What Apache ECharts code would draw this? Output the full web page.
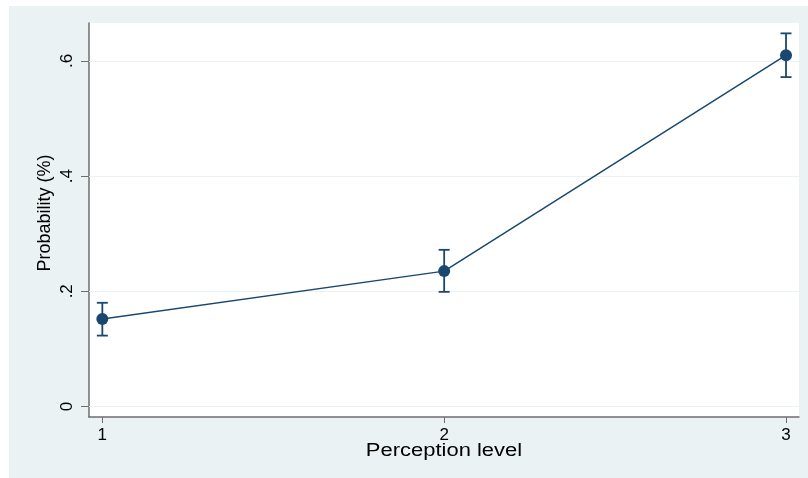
<!DOCTYPE html>
<html>
<head>
<meta charset="utf-8">
<script src="https://cdn.jsdelivr.net/npm/echarts@6/dist/echarts.min.js"></script>
<style>
html,body{margin:0;padding:0;background:#fff;}
#c{width:808px;height:478px;}
</style>
</head>
<body>
<div id="c"></div>
<script>
const perceptionLevels = [1, 2, 3];
const probability = [0.152, 0.235, 0.610];
const ciLower = [0.123, 0.199, 0.572];
const ciUpper = [0.180, 0.272, 0.648];
const yTicks = [0, 0.2, 0.4, 0.6];
const yTickLabels = ['0', '.2', '.4', '.6'];
const xTicks = [1, 2, 3];

const navy = '#1a476f';
const axisGray = '#6e6e6e';
const bg = '#eaf2f3';
const font = '"Liberation Sans", Arial, sans-serif';

const chart = echarts.init(document.getElementById('c'), null, {renderer: 'canvas'});
chart.setOption({
  backgroundColor: '#ffffff',
  animation: false,
  graphic: [
    {type: 'rect', z: -10, shape: {x: 9, y: 6, width: 799, height: 472}, style: {fill: bg}, silent: true},
    {type: 'text', x: 45, y: 213, rotation: Math.PI / 2,
      style: {text: 'Probability (%)', font: '18px ' + font, fill: '#000', align: 'center', verticalAlign: 'middle'}},
    {type: 'text', x: 444, y: 451, scaleX: 1.22,
      style: {text: 'Perception level', font: '18px ' + font, fill: '#000', align: 'center', verticalAlign: 'middle'}}
  ],
  grid: {left: 89, top: 23, right: 9, bottom: 61, show: true, backgroundColor: '#ffffff', borderWidth: 0},
  xAxis: {
    type: 'value', min: 0.961, max: 3.038,
    axisLine: {show: true, onZero: false, lineStyle: {color: axisGray, width: 1.5}},
    axisTick: {show: true, length: 6, customValues: xTicks, lineStyle: {color: axisGray}},
    axisLabel: {customValues: xTicks, margin: 10, color: '#000', fontSize: 17, fontFamily: font,
      formatter: v => String(v)},
    splitLine: {show: false}
  },
  yAxis: {
    type: 'value', min: -0.0184, max: 0.666,
    axisLine: {show: true, onZero: false, lineStyle: {color: axisGray, width: 1.5}},
    axisTick: {show: true, length: 8, customValues: yTicks, lineStyle: {color: axisGray}},
    axisLabel: {customValues: yTicks, rotate: 90, margin: 13, color: '#000', fontSize: 17, fontFamily: font,
      formatter: v => yTickLabels[yTicks.findIndex(t => Math.abs(t - v) < 1e-9)] ?? ''},
    splitLine: {show: false}
  },
  series: [
    {
      type: 'line',
      data: perceptionLevels.map((x, i) => [x, probability[i]]),
      symbol: 'circle', symbolSize: 12,
      lineStyle: {color: navy, width: 1.5},
      itemStyle: {color: navy},
      z: 5,
      markLine: {
        silent: true, symbol: 'none', label: {show: false},
        lineStyle: {color: bg, width: 1.2, type: 'solid'},
        data: yTicks.map(v => ({yAxis: v})),
        z: 1
      }
    },
    {
      type: 'custom',
      data: perceptionLevels.map((x, i) => [x, ciLower[i], ciUpper[i]]),
      z: 4,
      renderItem: function (params, api) {
        const lo = api.coord([api.value(0), api.value(1)]);
        const hi = api.coord([api.value(0), api.value(2)]);
        const cw = 5.5;
        const st = {stroke: navy, lineWidth: 1.8, fill: null};
        return {
          type: 'group',
          children: [
            {type: 'line', shape: {x1: lo[0], y1: lo[1], x2: hi[0], y2: hi[1]}, style: st},
            {type: 'line', shape: {x1: lo[0] - cw, y1: lo[1], x2: lo[0] + cw, y2: lo[1]}, style: st},
            {type: 'line', shape: {x1: hi[0] - cw, y1: hi[1], x2: hi[0] + cw, y2: hi[1]}, style: st}
          ]
        };
      }
    }
  ]
});
</script>
</body>
</html>
